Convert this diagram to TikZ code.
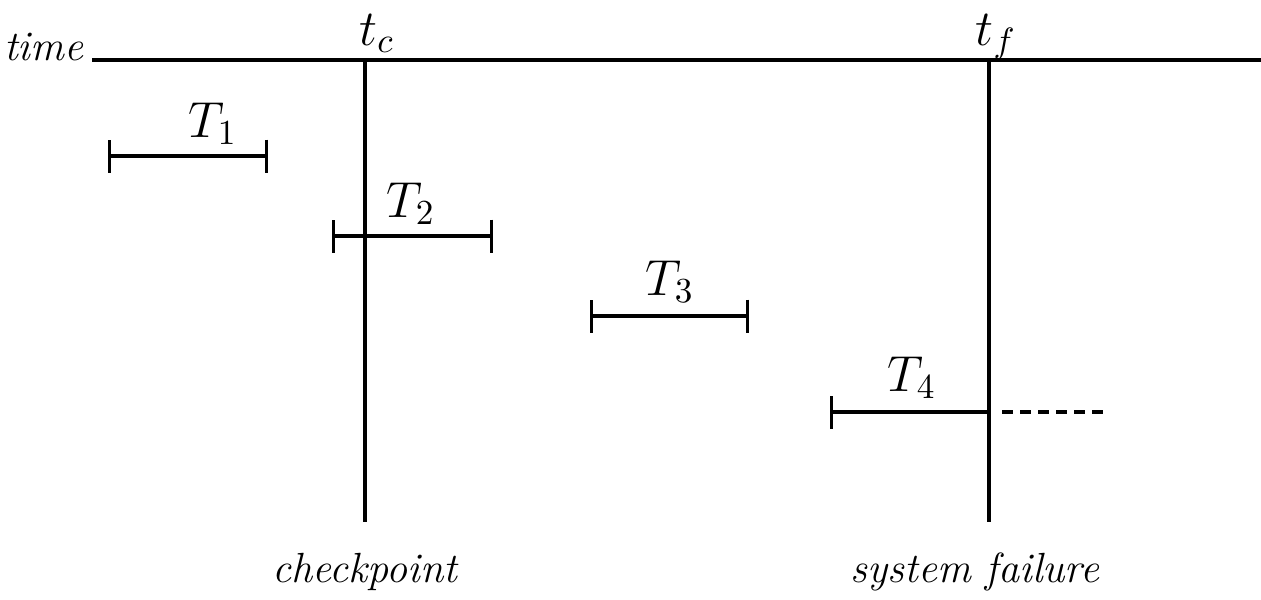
\documentclass[tikz,border=0pt]{standalone}
\usepackage{tikz}
\usetikzlibrary{arrows.meta,positioning}

\begin{document}
\begin{tikzpicture}[
				axis/.style={line width=0.9pt},
				txn/.style={line width=0.9pt, {Bar[width=0.33cm]}-{Bar[width=0.33cm]}},
				txnopen/.style={line width=0.9pt, {Bar[width=0.33cm]}-},
				lbl/.style={font=\fontsize{12}{14}\selectfont\itshape, inner sep=0pt},
				tname/.style={font=\fontsize{14}{16}\selectfont, inner sep=0pt, anchor=base}]

			\useasboundingbox (0,0) rectangle (12.61,-5.99);

			% Time axis
			\node[lbl, anchor=base east] (timelbl) at (0.84,-0.60) {time};
			\coordinate (tstart) at (0.92,-0.60);
			\coordinate (tend) at (12.61,-0.60);
			\draw[axis] (tstart) -- (tend);

			% Checkpoint and failure
			\coordinate (ctop) at (3.65,-0.60);
			\coordinate (cbot) at (3.65,-5.22);
			\coordinate (ftop) at (9.89,-0.60);
			\coordinate (fbot) at (9.89,-5.22);
			\draw[axis] (ctop) -- (cbot);
			\draw[axis] (ftop) -- (fbot);
			\node[tname] (tc) at (3.77,-0.45) {$t_c$};
			\node[tname] (tf) at (9.96,-0.45) {$t_f$};
			\node[lbl] (ckpt) at (3.65,-5.72) {checkpoint};
			\node[lbl] (fail) at (9.75,-5.72) {system failure};

			% Transactions
			\coordinate (t1a) at (1.08,-1.56);
			\coordinate (t1b) at (2.68,-1.56);
			\coordinate (t2a) at (3.32,-2.36);
			\coordinate (t2b) at (4.93,-2.36);
			\coordinate (t3a) at (5.90,-3.16);
			\coordinate (t3b) at (7.49,-3.16);
			\coordinate (t4a) at (8.30,-4.12);
			\coordinate (t4b) at (9.89,-4.12);
			\coordinate (t4c) at (10.02,-4.12);
			\coordinate (t4d) at (11.07,-4.12);
			\draw[txn] (t1a) -- (t1b);
			\draw[txn] (t2a) -- (t2b);
			\draw[txn] (t3a) -- (t3b);
			\draw[txnopen] (t4a) -- (t4b);
			\draw[line width=0.9pt, dash pattern=on 0.11cm off 0.07cm] (t4c) -- (t4d);
			\node[tname] (n1) at (2.13,-1.37) {$T_1$};
			\node[tname] (n2) at (4.11,-2.17) {$T_2$};
			\node[tname] (n3) at (6.70,-2.95) {$T_3$};
			\node[tname] (n4) at (9.12,-3.91) {$T_4$};

		\end{tikzpicture}
\end{document}
